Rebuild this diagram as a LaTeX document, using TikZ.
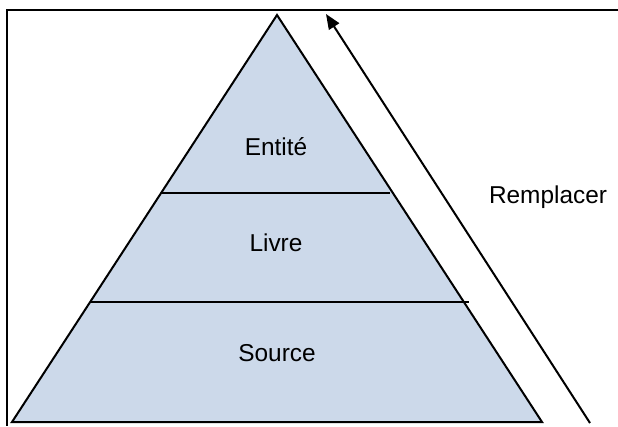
\documentclass[tikz,border=0pt]{standalone}
\usepackage{fontspec}
\setmainfont{Liberation Sans}
\usetikzlibrary{arrows.meta,calc}
\definecolor{pyrfill}{RGB}{204,217,234}
\tikzset{
  edge/.style={line width=2bp, black, line join=miter},
  lbl/.style={font=\fontsize{24.5}{28}\selectfont, inner sep=0pt, anchor=base},
}
\begin{document}
\begin{tikzpicture}[x=1bp,y=-1bp]
\useasboundingbox (0,0) rectangle (618,426);
% frame
\draw[line width=2.2bp] (618,10) -- (7,10) -- (7,426);
% pyramid
\coordinate (apex) at (277,15);
\coordinate (bl) at (12,422);
\coordinate (br) at (542,422);
\filldraw[edge, fill=pyrfill] (apex) -- (bl) -- (br) -- cycle;
\coordinate (l1) at ($(apex)!0.4373!(bl)$);
\coordinate (r1) at ($(apex)!0.4373!(br)$);
\coordinate (l2) at ($(apex)!0.7052!(bl)$);
\coordinate (r2) at ($(apex)!0.7052!(br)$);
\draw[edge] (l1) -- ([xshift=-3bp]r1);
\draw[edge] (l2) -- ([xshift=5bp]r2);
\node[lbl] (entite) at (276,155) {Entité};
\node[lbl] (livre) at (276,251) {Livre};
\node[lbl] (source) at (277,361) {Source};
% arrow
\coordinate (astart) at (590,423);
\coordinate (aend) at (326,14);
\draw[line width=2bp, -{Triangle[length=15bp,width=12bp]}] (astart) -- (aend);
\node[lbl] (rempl) at (548,203) {Remplacer};
\end{tikzpicture}
\end{document}
